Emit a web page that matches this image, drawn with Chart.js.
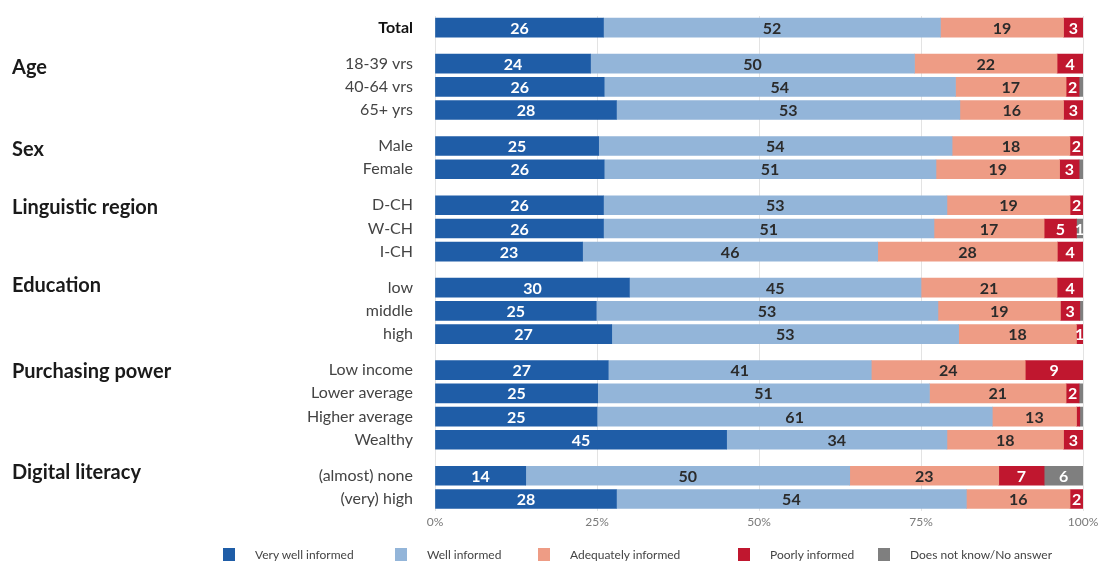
<!DOCTYPE html>
<html>
<head>
<meta charset="utf-8">
<script src="https://cdn.jsdelivr.net/npm/chart.js@4/dist/chart.umd.min.js"></script>
<style>
  body { margin: 0; background: #fff; }
  #wrap { position: relative; width: 1099px; height: 563px; }
  #legend { position: absolute; left: 0; top: 547px; width: 1099px; height: 16px;
            font-family: Lato, "Open Sans", sans-serif; font-size: 12px; color: #444; }
  .item { position: absolute; top: 0; white-space: nowrap; display: flex; align-items: center; }
  .box { width: 12px; height: 13px; margin-right: 20px; }
</style>
</head>
<body>
<div id="wrap">
  <canvas id="infoChart" width="1099" height="563"></canvas>
  <div id="legend"></div>
</div>
<script>
// Rows, top to bottom, and where each one sits on the y axis (row units)
const rowLabels = ["Total", "18-39 vrs", "40-64 vrs", "65+ yrs", "Male", "Female",
  "D-CH", "W-CH", "I-CH", "low", "middle", "high",
  "Low income", "Lower average", "Higher average", "Wealthy",
  "(almost) none", "(very) high"];
const rowPos = [0, 1.55, 2.55, 3.55, 5.1, 6.1, 7.65, 8.65, 9.65, 11.2, 12.2, 13.2,
  14.75, 15.75, 16.75, 17.75, 19.3, 20.3];

// Group headings and the first row of each group
const groupNames = ["Age", "Sex", "Linguistic region", "Education", "Purchasing power", "Digital literacy"];
const groupFirstRow = [1, 4, 6, 9, 12, 16];
const groupShift = [0.15, 0.16, 0.11, -0.08, 0.08, -0.16];

// Shares in percent per answer
const seriesNames = ["Very well informed", "Well informed", "Adequately informed", "Poorly informed", "Does not know/No answer"];
const veryWell = [26, 24, 26, 28, 25, 26, 26, 26, 23, 30, 25, 27, 27, 25, 25, 45, 14, 28];
const well     = [52, 50, 54, 53, 54, 51, 53, 51, 46, 45, 53, 53, 41, 51, 61, 34, 50, 54];
const adequate = [19, 22, 17, 16, 18, 19, 19, 17, 28, 21, 19, 18, 24, 21, 13, 18, 23, 16];
const poorly   = [3, 4, 2, 3, 2, 3, 2, 5, 4, 4, 3, 1, 9, 2, 0.5, 3, 7, 2];
const noAnswer = [0, 0, 0.6, 0, 0, 0.6, 0, 1, 0, 0, 0.5, 0, 0, 0.6, 0.5, 0, 6, 0];

const xTicks = [0, 25, 50, 75, 100];

const colors = ["#1f5da7", "#93b5d9", "#ee9c85", "#c0172f", "#7f7f7f"];
const labelColors = ["#ffffff", "#2b2b2b", "#2b2b2b", "#ffffff", "#ffffff"];
const legendLeft = [223, 395, 538, 738, 878];

const allSeries = [veryWell, well, adequate, poorly, noAnswer];
const rowTotals = rowLabels.map((_, i) => allSeries.reduce((s, arr) => s + arr[i], 0));

const datasets = allSeries.map((arr, k) => ({
  label: seriesNames[k],
  raw: arr,
  data: arr.map((v, i) => ({ x: v / rowTotals[i] * 100, y: rowPos[i] })),
  backgroundColor: colors[k],
  barThickness: 19,
  borderWidth: 0
}));

const FONT = 'Lato, "Open Sans", sans-serif';

// numbers inside the segments and the group headings on the left
const annotate = {
  id: "annotate",
  afterDatasetsDraw(chart) {
    const ctx = chart.ctx;
    ctx.save();
    ctx.textAlign = "center";
    ctx.textBaseline = "middle";
    ctx.font = "bold 16px " + FONT;
    chart.data.datasets.forEach((ds, k) => {
      chart.getDatasetMeta(k).data.forEach((bar, i) => {
        const v = ds.raw[i];
        if (v < 1) return;
        ctx.fillStyle = labelColors[k];
        ctx.fillText(String(v), (bar.x + bar.base) / 2, bar.y + 1);
      });
    });
    const y = chart.scales.y;
    ctx.textAlign = "left";
    ctx.fillStyle = "#1a1a1a";
    ctx.font = "bold 20px " + FONT;
    groupNames.forEach((g, j) => {
      ctx.fillText(g, 12, y.getPixelForValue(rowPos[groupFirstRow[j]] + groupShift[j]));
    });
    ctx.restore();
  }
};

new Chart(document.getElementById("infoChart"), {
  type: "bar",
  data: { datasets },
  options: {
    indexAxis: "y",
    responsive: false,
    animation: false,
    layout: { padding: { top: 16, right: 16, bottom: 30, left: 0 } },
    plugins: { legend: { display: false }, tooltip: { enabled: false } },
    scales: {
      x: {
        stacked: true,
        min: 0,
        max: 100,
        afterFit: (s) => { s.paddingLeft = 0; s.paddingRight = 0; },
        afterBuildTicks: (s) => { s.ticks = xTicks.map(v => ({ value: v })); },
        ticks: { callback: (v) => v + "%", color: "#7a7a7a", font: { family: FONT, size: 12 }, padding: 4 },
        grid: { color: "#e3e3e3", drawTicks: false },
        border: { display: false }
      },
      y: {
        type: "linear",
        stacked: true,
        reverse: true,
        offset: false,
        min: -0.5,
        max: 20.8,
        afterFit: (s) => { s.width = 435; s.paddingTop = 0; s.paddingBottom = 0; },
        afterBuildTicks: (s) => { s.ticks = rowPos.map(v => ({ value: v })); },
        ticks: {
          autoSkip: false,
          padding: 14,
          callback: (v) => rowLabels[rowPos.indexOf(v)],
          color: (c) => c.index === 0 ? "#111" : "#444",
          font: (c) => c.index === 0
            ? { family: FONT, size: 16, weight: "bold" }
            : { family: FONT, size: 16 }
        },
        grid: { display: false, offset: false },
        border: { display: false }
      }
    }
  },
  plugins: [annotate]
});

// legend row under the axis
const legend = document.getElementById("legend");
seriesNames.forEach((name, k) => {
  const item = document.createElement("div");
  item.className = "item";
  item.style.left = legendLeft[k] + "px";
  item.innerHTML = '<span class="box" style="background:' + colors[k] + '"></span><span>' + name + '</span>';
  legend.appendChild(item);
});
</script>
</body>
</html>
